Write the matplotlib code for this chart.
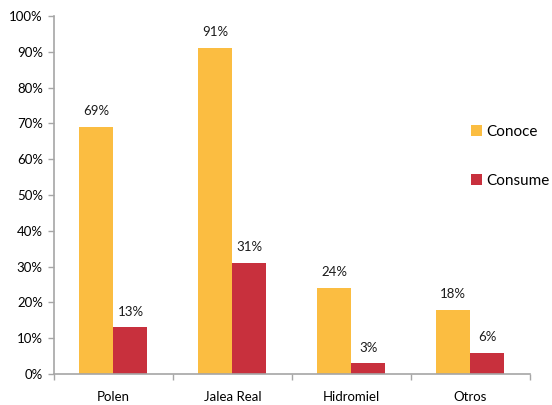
import matplotlib.pyplot as plt
import numpy as np
from matplotlib.ticker import FuncFormatter, FixedLocator

categories = ["Polen", "Jalea Real", "Hidromiel", "Otros"]
conoce = [69, 91, 24, 18]
consume = [13, 31, 3, 6]

yellow = "#FBBD41"
red = "#C8303D"
axis_gray = "#A6A6A6"

plt.rcParams['font.family'] = ['Lato', 'DejaVu Sans']

fig = plt.figure(figsize=(5.52, 4.05), dpi=100)
ax = fig.add_axes([0.0978, 0.0765, 0.862, 0.884])

x = np.arange(len(categories))
w = 0.286
b1 = ax.bar(x - w / 2, conoce, w, color=yellow, label="Conoce")
b2 = ax.bar(x + w / 2, consume, w, color=red, label="Consume")

for bars, vals in ((b1, conoce), (b2, consume)):
    for bar, v in zip(bars, vals):
        ax.annotate(f"{v}%", (bar.get_x() + bar.get_width() / 2, v),
                    xytext=(0, 7), textcoords="offset points",
                    ha="center", va="bottom", fontsize=9.5, color="#1a1a1a")

ax.set_xlim(-0.5, len(categories) - 0.5)
ax.set_ylim(0, 100)
ax.set_yticks(np.arange(0, 101, 10))
ax.yaxis.set_major_formatter(FuncFormatter(lambda v, p: f"{v:.0f}%"))

# category labels centred, ticks at group boundaries
ax.set_xticks(x)
ax.set_xticklabels(categories)
ax.xaxis.set_minor_locator(FixedLocator(np.arange(-0.5, len(categories), 1.0)))
ax.tick_params(axis="x", which="major", length=0, pad=12, labelsize=9.5)
ax.tick_params(axis="x", which="minor", length=4, color=axis_gray, width=1)
ax.tick_params(axis="y", length=4, color=axis_gray, width=1, labelsize=9.5, pad=4)

for side in ("top", "right"):
    ax.spines[side].set_visible(False)
for side in ("left", "bottom"):
    ax.spines[side].set_color(axis_gray)
    ax.spines[side].set_linewidth(1.2)

fig.legend(handles=[b1, b2], loc="upper left", bbox_to_anchor=(0.843, 0.707),
           frameon=False, fontsize=11, handlelength=0.7, handleheight=0.7,
           handletextpad=0.25, labelspacing=2.3, borderaxespad=0)

fig.savefig("out.png", dpi=100)
